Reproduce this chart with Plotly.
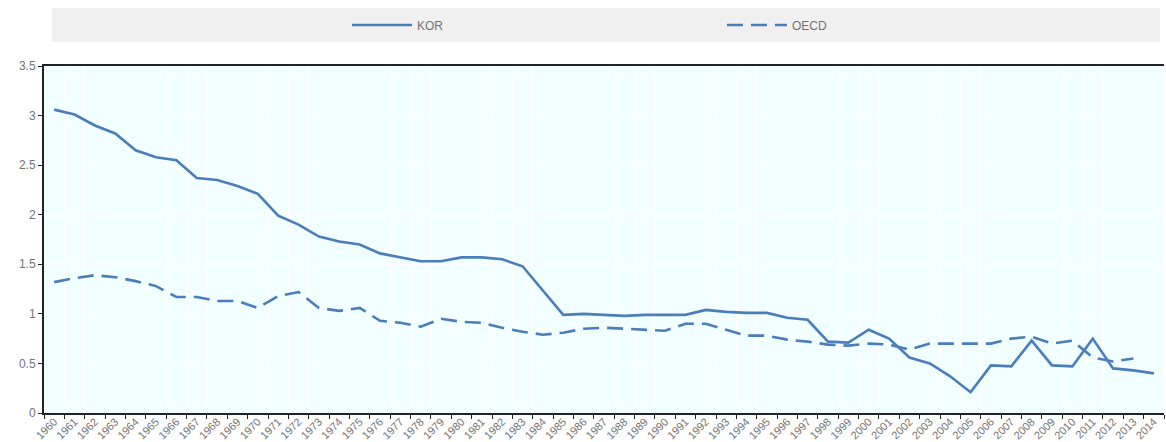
import plotly.graph_objects as go

years = [str(y) for y in range(1960, 2015)]

kor = [3.06, 3.01, 2.90, 2.82, 2.65, 2.58, 2.55, 2.37, 2.35, 2.29,
       2.21, 1.99, 1.90, 1.78, 1.73, 1.70, 1.61, 1.57, 1.53, 1.53,
       1.57, 1.57, 1.55, 1.48, 1.24, 0.99, 1.00, 0.99, 0.98, 0.99,
       0.99, 0.99, 1.04, 1.02, 1.01, 1.01, 0.96, 0.94, 0.72, 0.71,
       0.84, 0.75, 0.56, 0.50, 0.37, 0.21, 0.48, 0.47, 0.73, 0.48,
       0.47, 0.75, 0.45, 0.43, 0.40]

oecd = [1.32, 1.36, 1.39, 1.37, 1.33, 1.28, 1.17, 1.17, 1.13, 1.13,
        1.06, 1.18, 1.22, 1.06, 1.03, 1.06, 0.93, 0.91, 0.87, 0.95,
        0.92, 0.91, 0.86, 0.82, 0.79, 0.81, 0.85, 0.86, 0.85, 0.84,
        0.83, 0.90, 0.90, 0.84, 0.78, 0.78, 0.74, 0.72, 0.69, 0.68,
        0.70, 0.69, 0.64, 0.70, 0.70, 0.70, 0.70, 0.75, 0.77, 0.70,
        0.73, 0.56, 0.52, 0.55, None]

line_color = "#4a7ebb"
text_color = "#737373"

W, H = 1166, 442
ml, mr, mt, mb = 44, 2, 66, 29
pw, ph = W - ml - mr, H - mt - mb


def px_x(p):
    return (p - ml) / pw


def px_y(p):
    return (H - mb - p) / ph


fig = go.Figure()
fig.add_trace(go.Scatter(x=years, y=kor, name="KOR", mode="lines",
                         line=dict(color=line_color, width=2.6),
                         legend="legend"))
fig.add_trace(go.Scatter(x=years, y=oecd, name="OECD", mode="lines",
                         line=dict(color=line_color, width=2.6, dash="16px,8px"),
                         connectgaps=False, legend="legend2"))

# grey legend band across the top
fig.add_shape(type="rect", xref="paper", yref="paper",
              x0=px_x(52), x1=px_x(1160), y0=px_y(42), y1=px_y(8),
              fillcolor="#f0f0f0", line=dict(width=0), layer="below")

legend_common = dict(orientation="h", yanchor="middle", xanchor="left",
                     bgcolor="rgba(0,0,0,0)", itemwidth=60,
                     font=dict(size=12, color=text_color))

fig.update_layout(
    width=W, height=H,
    margin=dict(l=ml, r=mr, t=mt, b=mb, autoexpand=False),
    paper_bgcolor="white",
    plot_bgcolor="#f2ffff",
    font=dict(family="Liberation Sans, Arial, sans-serif", color=text_color, size=12),
    showlegend=True,
    legend=dict(x=px_x(347), y=px_y(25), **legend_common),
    legend2=dict(x=px_x(722), y=px_y(25), **legend_common),
    xaxis=dict(type="category", tickson="boundaries", tickangle=-45,
               showgrid=True, gridcolor="white", gridwidth=1,
               showline=True, linecolor="#222", linewidth=2, mirror=True,
               ticks="outside", ticklen=4, tickcolor="#222",
               ticklabelstandoff=-4,
               tickfont=dict(size=11, color=text_color),
               automargin=False, range=[-0.5, len(years) - 0.5]),
    yaxis=dict(range=[0, 3.5], dtick=0.5, showgrid=True, gridcolor="white",
               gridwidth=1, showline=True, linecolor="#222", linewidth=2,
               ticks="outside", ticklen=4, tickcolor="#222", zeroline=False,
               tickfont=dict(size=12, color=text_color), automargin=False),
)

fig.write_html("out.html")
